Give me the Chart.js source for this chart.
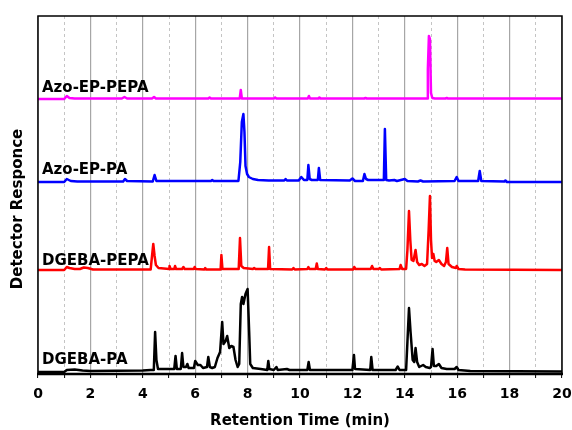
<!DOCTYPE html>
<html>
<head>
<meta charset="utf-8">
<script src="https://cdn.jsdelivr.net/npm/chart.js@4.4.1/dist/chart.umd.min.js"></script>
<style>
html,body{margin:0;padding:0;background:#fff;}
#wrap{width:572px;height:430px;position:relative;}
</style>
</head>
<body>
<div id="wrap"><canvas id="c" width="572" height="430"></canvas></div>
<script>
// ---- data (retention time in min, response above each trace's own baseline, arbitrary units) ----
const seriesNames = ['DGEBA-PA', 'DGEBA-PEPA', 'Azo-EP-PA', 'Azo-EP-PEPA'];
const seriesColors = ['#000000', '#ff0000', '#0000ff', '#ff00ff'];
const seriesOffsets = [2, 104, 192, 275];
const xTickLabels = ['0','2','4','6','8','10','12','14','16','18','20'];

const pa_t = [0,1.0,1.1,1.4,1.7,2.0,4.0,4.3,4.42,4.47,4.52,4.58,5.2,5.25,5.3,5.45,5.5,5.55,5.65,5.7,5.75,5.95,6.0,6.1,6.2,6.3,6.45,6.5,6.56,6.65,6.75,6.85,6.95,7.03,7.08,7.16,7.22,7.3,7.38,7.46,7.54,7.62,7.68,7.74,7.79,7.84,7.92,8.0,8.06,8.1,8.2,8.5,8.75,8.79,8.83,9.0,9.1,9.15,9.5,9.6,10.28,10.33,10.38,11.0,12.0,12.06,12.1,12.68,12.72,12.77,13.65,13.73,13.8,14.05,14.1,14.16,14.22,14.3,14.36,14.41,14.47,14.55,14.7,14.8,14.95,15.0,15.06,15.11,15.2,15.3,15.4,15.6,15.9,15.98,16.05,16.5,20];
const pa_v = [0,0,2,2.5,1.5,1,1.5,2,2,40,12,3,3,16,3,3,19,5,5,8,4,4,11,7,7,4,5,15,5,4,5,14,20,50,28,31,36,24,26,25,12,5,8,68,75,68,78,83,40,8,4,3,2,11,3,2,5,2,3,2,2,10,2,2,2,17,3,2,15,2,2,5.5,2,2,30,64,40,12,10,24,10,5,7,5,4,5,23,6,6,8,4,3,3,5,2,1,0.5];

const pepa_t = [0,1.0,1.1,1.2,1.4,1.6,1.75,1.9,2.1,4.3,4.36,4.40,4.45,4.5,4.6,5.0,5.02,5.06,5.2,5.23,5.27,5.5,5.55,5.6,5.95,5.98,6.02,6.35,6.38,6.42,6.97,7.0,7.04,7.66,7.71,7.76,7.85,8.2,8.25,8.3,8.78,8.82,8.86,9.7,9.75,9.8,10.28,10.32,10.36,10.6,10.64,10.68,10.95,11.0,11.05,12.03,12.07,12.12,12.7,12.75,12.8,13.0,13.05,13.1,13.8,13.84,13.9,14.05,14.1,14.16,14.21,14.26,14.33,14.41,14.47,14.55,14.65,14.75,14.85,14.91,14.96,15.0,15.04,15.09,15.14,15.2,15.3,15.4,15.5,15.57,15.62,15.67,15.8,15.95,15.98,16.05,16.3,20];
const pepa_v = [0,0,3,2,1,1,2.5,2,0.5,0.5,16,26,14,5,2,1,4,1,1,4,1,1,3,1,1,3,1,0.5,2,0.5,0.5,15,1,1,32,4,2,1,2,1,1,23,1,0.5,2,0.5,1,3,1,1,6.5,1,0.5,2,0.5,0.5,3,1,1,4,1,1,2,0.5,1,5,1,1,20,59,30,10,9,20,8,5,6,4,6,40,74,30,12,16,9,8,10,6,4,8,22,6,3,2,4,1,0.5,0];

const azpa_t = [0,1.0,1.1,1.25,1.5,3.25,3.32,3.4,4.38,4.45,4.52,6.6,6.65,6.7,7.65,7.72,7.78,7.84,7.88,7.92,7.98,8.05,8.2,8.4,8.8,9.4,9.45,9.5,9.95,10.05,10.15,10.28,10.32,10.37,10.45,10.68,10.72,10.77,11.9,12.0,12.1,12.4,12.46,12.52,12.6,13.2,13.24,13.29,13.4,13.6,13.7,14.0,14.1,14.5,14.6,14.7,15.9,15.98,16.05,16.8,16.86,16.92,17.8,17.84,17.9,20];
const azpa_v = [0,0,3,1,0.5,0.5,3,1,0.5,7,1,1,2,1,1,20,60,68,50,16,8,5,3,2,1.5,1.5,3,1.5,1.5,5,2,2,17,3,2,2,14,2,1.5,3.5,1,1,8,3,2,2,53,2,1.5,2,1,3,1,0.5,1.5,0.5,1,5,1,1,11,1,0.5,1.5,0,0];

const azpepa_t = [0,1.0,1.1,1.2,1.4,3.2,3.3,3.4,4.35,4.43,4.5,6.5,6.55,6.6,7.7,7.74,7.78,9.0,9.05,9.1,10.3,10.34,10.38,10.7,10.74,10.78,12.45,12.5,12.55,14.85,14.88,14.92,14.96,15.0,15.05,15.15,15.55,15.6,15.65,20];
const azpepa_v = [0,0,3,1,0.5,0.5,2,0.5,0.5,2,0.5,0.5,1.5,0.5,0.5,9,0.5,0.5,1.5,0.5,0.5,3,0.5,0.5,1.5,0.5,0.5,1,0.5,0.5,30,63,60,6,1,0.5,0.5,1,0.5,0.5];

const seriesT = [pa_t, pepa_t, azpa_t, azpepa_t];
const seriesV = [pa_v, pepa_v, azpa_v, azpepa_v];

const datasets = seriesNames.map((name, k) => ({
  label: name,
  data: seriesT[k].map((t, i) => ({x: t, y: seriesOffsets[k] + seriesV[k][i]})),
  borderColor: seriesColors[k],
  borderWidth: 2.5,
  pointRadius: 0,
  fill: false,
  tension: 0,
  borderJoinStyle: 'round'
}));

const FONT = '"DejaVu Sans", "Liberation Sans", Arial, sans-serif';

const labelPlugin = {
  id: 'labels',
  afterDraw(chart) {
    const ctx = chart.ctx;
    const a = chart.chartArea;
    ctx.save();
    // frame
    ctx.strokeStyle = '#000';
    ctx.lineWidth = 1.5;
    ctx.strokeRect(a.left, a.top, a.right - a.left, a.bottom - a.top);
    ctx.lineWidth = 2.5;
    ctx.beginPath();
    ctx.moveTo(a.left - 1, a.bottom);
    ctx.lineTo(a.right + 1, a.bottom);
    ctx.stroke();
    // trace labels
    ctx.fillStyle = '#000';
    ctx.font = 'bold 15px ' + FONT;
    ctx.textAlign = 'left';
    ctx.textBaseline = 'alphabetic';
    const ys = chart.scales.y;
    const lift = [8, 5, 8, 7];
    seriesNames.forEach((n, k) => {
      const yb = ys.getPixelForValue(seriesOffsets[k]) - lift[k];
      ctx.fillText(n, a.left + 4, yb);
    });
    // y axis title
    ctx.translate(18.5, 209);
    ctx.rotate(-Math.PI / 2);
    ctx.textAlign = 'center';
    ctx.textBaseline = 'middle';
    ctx.fillText('Detector Responce', 0, 0);
    ctx.restore();
  }
};

new Chart(document.getElementById('c'), {
  type: 'line',
  data: { datasets },
  plugins: [labelPlugin],
  options: {
    responsive: false,
    animation: false,
    layout: { padding: { left: 38, right: 10, top: 16, bottom: 0 } },
    plugins: { legend: { display: false }, tooltip: { enabled: false } },
    scales: {
      x: {
        type: 'linear',
        min: 0, max: 20,
        position: 'bottom',
        afterFit(s) { s.height = 56; s.paddingRight = 0; s.paddingLeft = 0; },
        ticks: {
          stepSize: 1,
          autoSkip: false,
          maxRotation: 0,
          padding: 8,
          color: '#000',
          font: { family: FONT, size: 14, weight: 'bold' },
          callback: (v) => (v % 2 === 0 ? xTickLabels[v / 2] : '')
        },
        grid: {
          color: (c) => (c.tick && c.tick.value % 2 === 0 ? '#a6a6a6' : 'rgba(0,0,0,0)'),
          lineWidth: 1.2,
          tickLength: 4,
          tickColor: '#000',
          tickWidth: 1
        },
        border: { display: true, color: '#000', width: 2 },
        title: {
          display: true,
          text: 'Retention Time (min)',
          color: '#000',
          font: { family: FONT, size: 15, weight: 'bold' },
          padding: { top: 0, bottom: 0 }
        }
      },
      x2: {
        type: 'linear',
        min: 0, max: 20,
        position: 'top',
        afterFit(s) { s.height = 0; s.paddingRight = 0; s.paddingLeft = 0; },
        ticks: { display: false, stepSize: 1 },
        grid: {
          drawTicks: false,
          color: (c) => (c.tick && c.tick.value % 2 !== 0 ? '#c4c4c4' : 'rgba(0,0,0,0)'),
          lineWidth: 1
        },
        border: { display: false, dash: [3, 3] }
      },
      y: {
        display: false,
        min: 0, max: 358
      }
    }
  }
});
</script>
</body>
</html>
